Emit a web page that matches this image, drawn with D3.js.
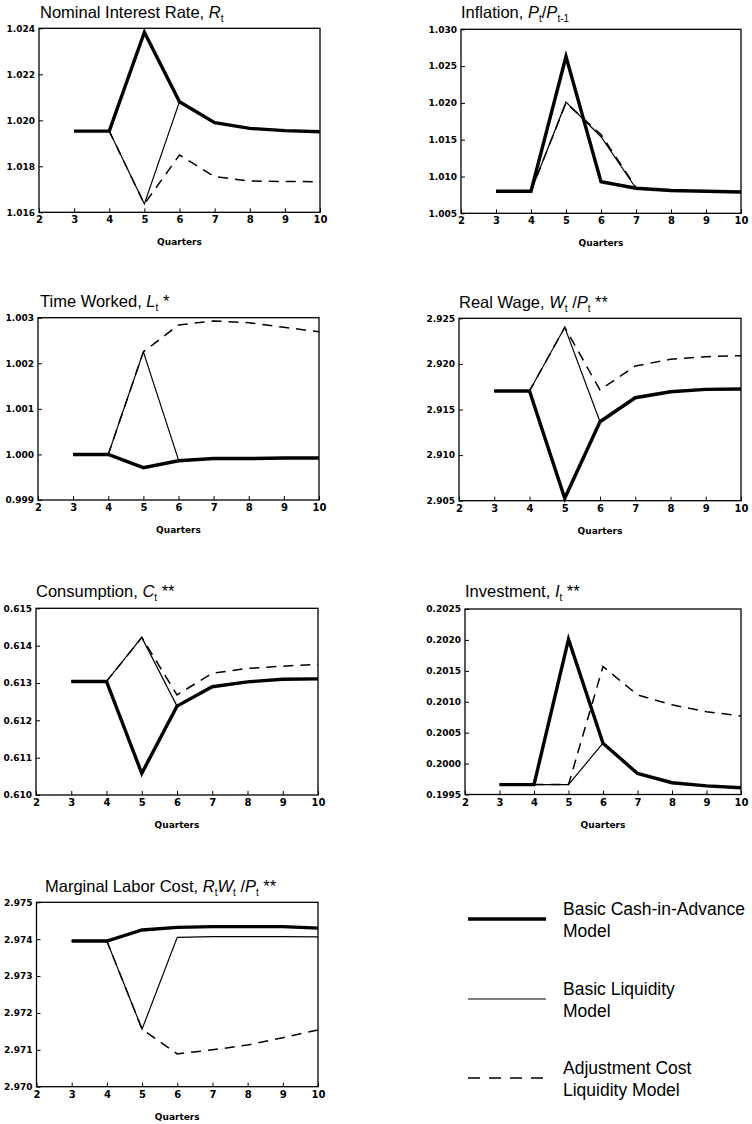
<!DOCTYPE html>
<html>
<head>
<meta charset="utf-8">
<script src="https://cdn.jsdelivr.net/npm/d3@7"></script>
<style>
  body { margin: 0; background: #fff; }
  svg { display: block; }
  .tick line { stroke: #000; stroke-width: 1; }
  .ylab text { font-family: "DejaVu Sans"; font-weight: bold; font-size: 9px; }
  .xlab text { font-family: "DejaVu Sans"; font-weight: bold; font-size: 10px; }
</style>
</head>
<body>
<svg id="chart" width="752" height="1124"></svg>
<script>
// quarters on the horizontal axis
const quarters = [3, 4, 5, 6, 7, 8, 9, 10];
const xTicks = [2, 3, 4, 5, 6, 7, 8, 9, 10];

// Nominal interest rate
const rateCIA = [1.01953, 1.01953, 1.02383, 1.02081, 1.0199, 1.01965, 1.01955, 1.0195];
const rateLiq = [1.01953, 1.01953, 1.01636, 1.02081, 1.0199, 1.01965, 1.01955, 1.0195];
const rateAdj = [1.01953, 1.01953, 1.01636, 1.01849, 1.01755, 1.01736, 1.01734, 1.01733];
const rateTicks = [1.016, 1.018, 1.020, 1.022, 1.024];

// Inflation
const inflCIA = [1.0080, 1.0080, 1.0263, 1.0093, 1.0084, 1.0081, 1.0080, 1.0079];
const inflLiq = [1.0080, 1.0080, 1.0201, 1.0154, 1.0084, 1.0081, 1.0080, 1.0079];
const inflAdj = [1.0080, 1.0080, 1.0200, 1.0157, 1.0085, 1.0081, 1.0080, 1.0079];
const inflTicks = [1.005, 1.010, 1.015, 1.020, 1.025, 1.030];

// Time worked
const laborCIA = [1.0000, 1.0000, 0.99971, 0.99986, 0.99991, 0.99991, 0.99992, 0.99992];
const laborLiq = [1.0000, 1.0000, 1.00225, 0.99988, 0.99991, 0.99991, 0.99992, 0.99992];
const laborAdj = [1.0000, 1.0000, 1.00225, 1.00284, 1.00293, 1.00289, 1.00279, 1.00269];
const laborTicks = [0.999, 1.000, 1.001, 1.002, 1.003];

// Real wage
const wageCIA = [2.91703, 2.91703, 2.90526, 2.91366, 2.91629, 2.91695, 2.91721, 2.91725];
const wageLiq = [2.91703, 2.91703, 2.92401, 2.91366, 2.91629, 2.91695, 2.91721, 2.91725];
const wageAdj = [2.91703, 2.91703, 2.92401, 2.91714, 2.91977, 2.9205, 2.92079, 2.9209];
const wageTicks = [2.905, 2.910, 2.915, 2.920, 2.925];

// Consumption
const consCIA = [0.61304, 0.61304, 0.61058, 0.61238, 0.6129, 0.61303, 0.6131, 0.61311];
const consLiq = [0.61304, 0.61304, 0.61422, 0.61238, 0.6129, 0.61303, 0.6131, 0.61311];
const consAdj = [0.61304, 0.61304, 0.61422, 0.61268, 0.61326, 0.61339, 0.61345, 0.6135];
const consTicks = [0.610, 0.611, 0.612, 0.613, 0.614, 0.615];

// Investment
const invCIA = [0.19966, 0.19966, 0.20201, 0.20033, 0.19984, 0.19969, 0.19964, 0.19961];
const invLiq = [0.19966, 0.19966, 0.19966, 0.20033, 0.19984, 0.19969, 0.19964, 0.19961];
const invAdj = [0.19966, 0.19966, 0.19966, 0.20157, 0.20111, 0.20095, 0.20084, 0.20077];
const invTicks = [0.1995, 0.2000, 0.2005, 0.2010, 0.2015, 0.2020, 0.2025];

// Marginal labor cost
const mlcCIA = [2.97395, 2.97395, 2.97425, 2.97432, 2.97434, 2.97434, 2.97434, 2.9743];
const mlcLiq = [2.97395, 2.97395, 2.97156, 2.97405, 2.97407, 2.97407, 2.97407, 2.97406];
const mlcAdj = [2.97395, 2.97395, 2.97156, 2.97089, 2.971, 2.97113, 2.97133, 2.97154];
const mlcTicks = [2.970, 2.971, 2.972, 2.973, 2.974, 2.975];

const legendLabels = [
  ['Basic Cash-in-Advance', 'Model'],
  ['Basic Liquidity', 'Model'],
  ['Adjustment Cost', 'Liquidity Model']
];

// line looks for the three models
const styles = [
  { width: 3.4, dash: null },
  { width: 1.2, dash: null },
  { width: 1.5, dash: '10,7' }
];

const svg = d3.select('#chart');

const panels = [
  { box: [39, 320, 28.3, 212.3], tx: 40, ty: 18, ticks: rateTicks, fmt: '.3f',
    series: [rateCIA, rateLiq, rateAdj],
    title: [{ t: 'Nominal Interest Rate, ' }, { t: 'R', i: 1 }, { t: 't', s: 1 }] },
  { box: [461, 741, 29.3, 213.3], tx: 461, ty: 18, ticks: inflTicks, fmt: '.3f',
    series: [inflCIA, inflLiq, inflAdj],
    title: [{ t: 'Inflation, ' }, { t: 'P', i: 1 }, { t: 't', s: 1 }, { t: '/' }, { t: 'P', i: 1 }, { t: 't-1', s: 1 }] },
  { box: [38, 319, 317.7, 500], tx: 40, ty: 306.5, ticks: laborTicks, fmt: '.3f',
    series: [laborCIA, laborLiq, laborAdj],
    title: [{ t: 'Time Worked, ' }, { t: 'L', i: 1 }, { t: 't', s: 1 }, { t: ' *' }] },
  { box: [459, 741, 318.3, 500.7], tx: 459, ty: 307.5, ticks: wageTicks, fmt: '.3f',
    series: [wageCIA, wageLiq, wageAdj],
    title: [{ t: 'Real Wage, ' }, { t: 'W', i: 1 }, { t: 't', s: 1 }, { t: ' /' }, { t: 'P', i: 1 }, { t: 't', s: 1 }, { t: ' **' }] },
  { box: [36, 318, 608.3, 795], tx: 36, ty: 596.7, ticks: consTicks, fmt: '.3f',
    series: [consCIA, consLiq, consAdj],
    title: [{ t: 'Consumption, ' }, { t: 'C', i: 1 }, { t: 't', s: 1 }, { t: ' **' }] },
  { box: [465, 741, 609, 794.5], tx: 465, ty: 597, ticks: invTicks, fmt: '.4f',
    series: [invCIA, invLiq, invAdj],
    title: [{ t: 'Investment, ' }, { t: 'I', i: 1 }, { t: 't', s: 1 }, { t: ' **' }] },
  { box: [36.5, 318, 902.3, 1086.7], tx: 45, ty: 891.7, ticks: mlcTicks, fmt: '.3f',
    series: [mlcCIA, mlcLiq, mlcAdj],
    title: [{ t: 'Marginal Labor Cost, ' }, { t: 'R', i: 1 }, { t: 't', s: 1 }, { t: 'W', i: 1 }, { t: 't', s: 1 }, { t: ' /' }, { t: 'P', i: 1 }, { t: 't', s: 1 }, { t: ' **' }] }
];

panels.forEach(drawPanel);
drawLegend();

function drawPanel(p) {
  const [l, r, t, b] = p.box;
  const x = d3.scaleLinear().domain([2, 10]).range([l, r]);
  const y = d3.scaleLinear().domain(d3.extent(p.ticks)).range([b, t]);

  svg.append('g').attr('class', 'ylab')
    .attr('transform', `translate(${l},0)`)
    .call(d3.axisLeft(y).tickValues(p.ticks).tickFormat(d3.format(p.fmt))
      .tickSizeInner(-4).tickSizeOuter(0).tickPadding(4))
    .call(g => g.select('.domain').remove());

  svg.append('g').attr('class', 'xlab')
    .attr('transform', `translate(0,${b})`)
    .call(d3.axisBottom(x).tickValues(xTicks).tickFormat(d3.format('d'))
      .tickSizeInner(-4).tickSizeOuter(0).tickPadding(4))
    .call(g => g.select('.domain').remove());

  svg.append('rect')
    .attr('x', l).attr('y', t)
    .attr('width', r - l).attr('height', b - t)
    .attr('fill', 'none').attr('stroke', '#000').attr('stroke-width', 1.3);

  const line = d3.line().x((d, i) => x(quarters[i])).y(d => y(d));

  // dashed first, then thin, then thick on top
  [2, 1, 0].forEach(k => {
    svg.append('path')
      .datum(p.series[k])
      .attr('d', line)
      .attr('fill', 'none')
      .attr('stroke', '#000')
      .attr('stroke-width', styles[k].width)
      .attr('stroke-dasharray', styles[k].dash)
      .attr('stroke-linejoin', 'miter');
  });

  svg.append('text')
    .attr('x', (l + r) / 2).attr('y', b + 33)
    .attr('text-anchor', 'middle')
    .style('font-family', 'DejaVu Sans').style('font-weight', 'bold').style('font-size', '9px')
    .text('Quarters');

  const title = svg.append('text')
    .attr('x', p.tx).attr('y', p.ty)
    .style('font-family', 'Liberation Sans').style('font-size', '16.5px');
  let low = false;
  p.title.forEach(seg => {
    const ts = title.append('tspan').text(seg.t);
    if (seg.i) ts.style('font-style', 'italic');
    if (seg.s && !low) { ts.attr('dy', 4).style('font-size', '10px'); low = true; }
    else if (seg.s) ts.style('font-size', '10px');
    else if (low) { ts.attr('dy', -4); low = false; }
  });
}

function drawLegend() {
  const rows = [919, 999, 1078];
  rows.forEach((yy, k) => {
    svg.append('line')
      .attr('x1', 468).attr('x2', 546).attr('y1', yy).attr('y2', yy)
      .attr('stroke', '#000')
      .attr('stroke-width', styles[k].width)
      .attr('stroke-dasharray', k === 2 ? '12,9' : null);
    const txt = svg.append('text')
      .attr('x', 563).attr('y', yy - 4)
      .style('font-family', 'Liberation Sans').style('font-size', '17.5px');
    legendLabels[k].forEach((s, j) => {
      txt.append('tspan').attr('x', 563).attr('dy', j ? 21.5 : 0).text(s);
    });
  });
}
</script>
</body>
</html>
